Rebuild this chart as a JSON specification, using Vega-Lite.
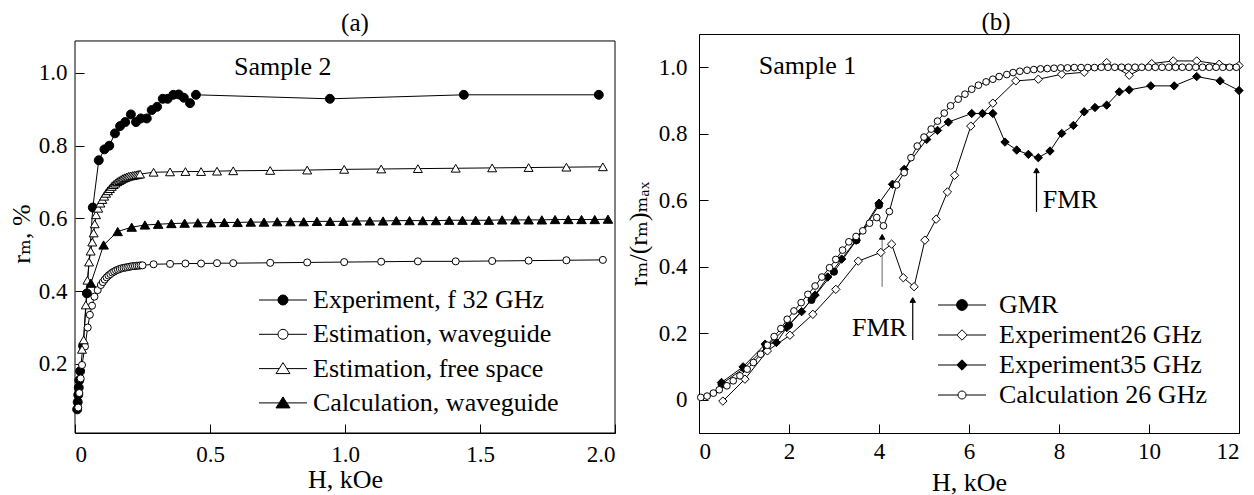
{
"$schema": "https://vega.github.io/schema/vega-lite/v6.json",
"padding": {"left": 8, "top": 9, "right": 0, "bottom": 0},
"spacing": 8,
"config": {
  "font": "Liberation Serif, Times New Roman, Tinos, DejaVu Serif, serif",
  "view": {"stroke": "black", "strokeWidth": 1},
  "point": {"stroke": "black", "strokeWidth": 1, "opacity": 1},
  "axis": {"grid": false, "domainColor": "black", "tickColor": "black", "labelColor": "black", "titleColor": "black", "labelFontSize": 23, "titleFontSize": 26, "titleFontWeight": "normal", "tickSize": -9, "labelFont": "Liberation Serif, Times New Roman, Tinos, DejaVu Serif, serif", "titleFont": "Liberation Serif, Times New Roman, Tinos, DejaVu Serif, serif"},
  "text": {"font": "Liberation Serif, Times New Roman, Tinos, DejaVu Serif, serif"},
  "legend": {"labelFont": "Liberation Serif, Times New Roman, Tinos, DejaVu Serif, serif", "labelColor": "black", "labelLimit": 500, "padding": 0}
},
"datasets": {
  "a": [
    {"s":"Experiment, f 32 GHz","h":0.008,"v":0.075},{"s":"Experiment, f 32 GHz","h":0.010,"v":0.095},{"s":"Experiment, f 32 GHz","h":0.012,"v":0.115},{"s":"Experiment, f 32 GHz","h":0.014,"v":0.135},{"s":"Experiment, f 32 GHz","h":0.016,"v":0.155},{"s":"Experiment, f 32 GHz","h":0.019,"v":0.18},{"s":"Experiment, f 32 GHz","h":0.030,"v":0.25},{"s":"Experiment, f 32 GHz","h":0.044,"v":0.394},{"s":"Experiment, f 32 GHz","h":0.066,"v":0.63},{"s":"Experiment, f 32 GHz","h":0.088,"v":0.76},{"s":"Experiment, f 32 GHz","h":0.109,"v":0.79},{"s":"Experiment, f 32 GHz","h":0.127,"v":0.80},{"s":"Experiment, f 32 GHz","h":0.148,"v":0.834},{"s":"Experiment, f 32 GHz","h":0.167,"v":0.854},{"s":"Experiment, f 32 GHz","h":0.186,"v":0.865},{"s":"Experiment, f 32 GHz","h":0.207,"v":0.886},{"s":"Experiment, f 32 GHz","h":0.226,"v":0.865},{"s":"Experiment, f 32 GHz","h":0.244,"v":0.875},{"s":"Experiment, f 32 GHz","h":0.266,"v":0.875},{"s":"Experiment, f 32 GHz","h":0.284,"v":0.898},{"s":"Experiment, f 32 GHz","h":0.304,"v":0.907},{"s":"Experiment, f 32 GHz","h":0.325,"v":0.929},{"s":"Experiment, f 32 GHz","h":0.343,"v":0.929},{"s":"Experiment, f 32 GHz","h":0.364,"v":0.94},{"s":"Experiment, f 32 GHz","h":0.384,"v":0.941},{"s":"Experiment, f 32 GHz","h":0.403,"v":0.932},{"s":"Experiment, f 32 GHz","h":0.426,"v":0.917},{"s":"Experiment, f 32 GHz","h":0.448,"v":0.94},{"s":"Experiment, f 32 GHz","h":0.944,"v":0.929},{"s":"Experiment, f 32 GHz","h":1.44,"v":0.94},{"s":"Experiment, f 32 GHz","h":1.94,"v":0.94},
    {"s":"Estimation, waveguide","h":0.012,"v":0.08},{"s":"Estimation, waveguide","h":0.016,"v":0.12},{"s":"Estimation, waveguide","h":0.021,"v":0.16},{"s":"Estimation, waveguide","h":0.026,"v":0.197},{"s":"Estimation, waveguide","h":0.037,"v":0.248},{"s":"Estimation, waveguide","h":0.047,"v":0.30},{"s":"Estimation, waveguide","h":0.055,"v":0.335},{"s":"Estimation, waveguide","h":0.063,"v":0.36},{"s":"Estimation, waveguide","h":0.072,"v":0.385},{"s":"Estimation, waveguide","h":0.084,"v":0.403},{"s":"Estimation, waveguide","h":0.096,"v":0.417},{"s":"Estimation, waveguide","h":0.103,"v":0.425},{"s":"Estimation, waveguide","h":0.110,"v":0.432},{"s":"Estimation, waveguide","h":0.117,"v":0.438},{"s":"Estimation, waveguide","h":0.124,"v":0.443},{"s":"Estimation, waveguide","h":0.131,"v":0.447},{"s":"Estimation, waveguide","h":0.138,"v":0.451},{"s":"Estimation, waveguide","h":0.145,"v":0.454},{"s":"Estimation, waveguide","h":0.152,"v":0.457},{"s":"Estimation, waveguide","h":0.159,"v":0.459},{"s":"Estimation, waveguide","h":0.166,"v":0.461},{"s":"Estimation, waveguide","h":0.173,"v":0.463},{"s":"Estimation, waveguide","h":0.180,"v":0.464},{"s":"Estimation, waveguide","h":0.187,"v":0.465},{"s":"Estimation, waveguide","h":0.194,"v":0.466},{"s":"Estimation, waveguide","h":0.201,"v":0.467},{"s":"Estimation, waveguide","h":0.208,"v":0.468},{"s":"Estimation, waveguide","h":0.215,"v":0.469},{"s":"Estimation, waveguide","h":0.222,"v":0.469},{"s":"Estimation, waveguide","h":0.229,"v":0.47},{"s":"Estimation, waveguide","h":0.236,"v":0.47},{"s":"Estimation, waveguide","h":0.243,"v":0.471},{"s":"Estimation, waveguide","h":0.250,"v":0.471},{"s":"Estimation, waveguide","h":0.291,"v":0.474},{"s":"Estimation, waveguide","h":0.352,"v":0.475},{"s":"Estimation, waveguide","h":0.409,"v":0.476},{"s":"Estimation, waveguide","h":0.467,"v":0.476},{"s":"Estimation, waveguide","h":0.526,"v":0.477},{"s":"Estimation, waveguide","h":0.586,"v":0.477},{"s":"Estimation, waveguide","h":0.723,"v":0.478},{"s":"Estimation, waveguide","h":0.86,"v":0.479},{"s":"Estimation, waveguide","h":0.997,"v":0.48},{"s":"Estimation, waveguide","h":1.134,"v":0.481},{"s":"Estimation, waveguide","h":1.27,"v":0.482},{"s":"Estimation, waveguide","h":1.41,"v":0.482},{"s":"Estimation, waveguide","h":1.545,"v":0.483},{"s":"Estimation, waveguide","h":1.68,"v":0.484},{"s":"Estimation, waveguide","h":1.82,"v":0.485},{"s":"Estimation, waveguide","h":1.955,"v":0.486},
    {"s":"Estimation, free space","h":0.026,"v":0.24},{"s":"Estimation, free space","h":0.032,"v":0.266},{"s":"Estimation, free space","h":0.040,"v":0.362},{"s":"Estimation, free space","h":0.046,"v":0.43},{"s":"Estimation, free space","h":0.052,"v":0.48},{"s":"Estimation, free space","h":0.058,"v":0.51},{"s":"Estimation, free space","h":0.064,"v":0.535},{"s":"Estimation, free space","h":0.069,"v":0.56},{"s":"Estimation, free space","h":0.073,"v":0.585},{"s":"Estimation, free space","h":0.078,"v":0.61},{"s":"Estimation, free space","h":0.086,"v":0.628},{"s":"Estimation, free space","h":0.094,"v":0.642},{"s":"Estimation, free space","h":0.101,"v":0.652},{"s":"Estimation, free space","h":0.108,"v":0.661},{"s":"Estimation, free space","h":0.115,"v":0.669},{"s":"Estimation, free space","h":0.122,"v":0.676},{"s":"Estimation, free space","h":0.129,"v":0.682},{"s":"Estimation, free space","h":0.136,"v":0.688},{"s":"Estimation, free space","h":0.143,"v":0.693},{"s":"Estimation, free space","h":0.150,"v":0.697},{"s":"Estimation, free space","h":0.157,"v":0.701},{"s":"Estimation, free space","h":0.164,"v":0.704},{"s":"Estimation, free space","h":0.171,"v":0.707},{"s":"Estimation, free space","h":0.178,"v":0.71},{"s":"Estimation, free space","h":0.185,"v":0.712},{"s":"Estimation, free space","h":0.192,"v":0.714},{"s":"Estimation, free space","h":0.199,"v":0.716},{"s":"Estimation, free space","h":0.206,"v":0.717},{"s":"Estimation, free space","h":0.213,"v":0.718},{"s":"Estimation, free space","h":0.220,"v":0.719},{"s":"Estimation, free space","h":0.227,"v":0.72},{"s":"Estimation, free space","h":0.234,"v":0.721},{"s":"Estimation, free space","h":0.241,"v":0.722},{"s":"Estimation, free space","h":0.291,"v":0.727},{"s":"Estimation, free space","h":0.352,"v":0.728},{"s":"Estimation, free space","h":0.409,"v":0.729},{"s":"Estimation, free space","h":0.467,"v":0.729},{"s":"Estimation, free space","h":0.526,"v":0.73},{"s":"Estimation, free space","h":0.586,"v":0.731},{"s":"Estimation, free space","h":0.723,"v":0.732},{"s":"Estimation, free space","h":0.86,"v":0.733},{"s":"Estimation, free space","h":0.997,"v":0.735},{"s":"Estimation, free space","h":1.134,"v":0.736},{"s":"Estimation, free space","h":1.27,"v":0.737},{"s":"Estimation, free space","h":1.41,"v":0.738},{"s":"Estimation, free space","h":1.545,"v":0.739},{"s":"Estimation, free space","h":1.68,"v":0.74},{"s":"Estimation, free space","h":1.82,"v":0.741},{"s":"Estimation, free space","h":1.955,"v":0.742},
    {"s":"Calculation, waveguide","h":0.059,"v":0.422},{"s":"Calculation, waveguide","h":0.106,"v":0.527},{"s":"Calculation, waveguide","h":0.158,"v":0.564},{"s":"Calculation, waveguide","h":0.21,"v":0.576},{"s":"Calculation, waveguide","h":0.259,"v":0.582},{"s":"Calculation, waveguide","h":0.308,"v":0.584},{"s":"Calculation, waveguide","h":0.357,"v":0.586},{"s":"Calculation, waveguide","h":0.406,"v":0.587},{"s":"Calculation, waveguide","h":0.455,"v":0.588},{"s":"Calculation, waveguide","h":0.504,"v":0.588},{"s":"Calculation, waveguide","h":0.553,"v":0.589},{"s":"Calculation, waveguide","h":0.602,"v":0.589},{"s":"Calculation, waveguide","h":0.651,"v":0.59},{"s":"Calculation, waveguide","h":0.700,"v":0.59},{"s":"Calculation, waveguide","h":0.749,"v":0.591},{"s":"Calculation, waveguide","h":0.798,"v":0.591},{"s":"Calculation, waveguide","h":0.847,"v":0.591},{"s":"Calculation, waveguide","h":0.896,"v":0.592},{"s":"Calculation, waveguide","h":0.945,"v":0.592},{"s":"Calculation, waveguide","h":0.994,"v":0.592},{"s":"Calculation, waveguide","h":1.043,"v":0.593},{"s":"Calculation, waveguide","h":1.092,"v":0.593},{"s":"Calculation, waveguide","h":1.141,"v":0.593},{"s":"Calculation, waveguide","h":1.190,"v":0.594},{"s":"Calculation, waveguide","h":1.239,"v":0.594},{"s":"Calculation, waveguide","h":1.288,"v":0.594},{"s":"Calculation, waveguide","h":1.337,"v":0.594},{"s":"Calculation, waveguide","h":1.386,"v":0.595},{"s":"Calculation, waveguide","h":1.435,"v":0.595},{"s":"Calculation, waveguide","h":1.484,"v":0.595},{"s":"Calculation, waveguide","h":1.533,"v":0.595},{"s":"Calculation, waveguide","h":1.582,"v":0.596},{"s":"Calculation, waveguide","h":1.631,"v":0.596},{"s":"Calculation, waveguide","h":1.680,"v":0.596},{"s":"Calculation, waveguide","h":1.729,"v":0.596},{"s":"Calculation, waveguide","h":1.778,"v":0.597},{"s":"Calculation, waveguide","h":1.827,"v":0.597},{"s":"Calculation, waveguide","h":1.876,"v":0.597},{"s":"Calculation, waveguide","h":1.925,"v":0.597},{"s":"Calculation, waveguide","h":1.974,"v":0.598}
  ],
  "b": [
    {"s":"GMR","h":0.5,"v":0.047},{"s":"GMR","h":1.0,"v":0.095},{"s":"GMR","h":1.5,"v":0.16},{"s":"GMR","h":2.0,"v":0.225},{"s":"GMR","h":2.5,"v":0.30},{"s":"GMR","h":3.0,"v":0.385},{"s":"GMR","h":3.5,"v":0.48},{"s":"GMR","h":4.0,"v":0.585},
    {"s":"Experiment26 GHz","h":0.53,"v":-0.004},{"s":"Experiment26 GHz","h":1.02,"v":0.062},{"s":"Experiment26 GHz","h":1.52,"v":0.147},{"s":"Experiment26 GHz","h":2.02,"v":0.194},{"s":"Experiment26 GHz","h":2.53,"v":0.257},{"s":"Experiment26 GHz","h":3.04,"v":0.332},{"s":"Experiment26 GHz","h":3.54,"v":0.417},{"s":"Experiment26 GHz","h":4.04,"v":0.443},{"s":"Experiment26 GHz","h":4.28,"v":0.468},{"s":"Experiment26 GHz","h":4.54,"v":0.367},{"s":"Experiment26 GHz","h":4.78,"v":0.34},{"s":"Experiment26 GHz","h":5.02,"v":0.48},{"s":"Experiment26 GHz","h":5.27,"v":0.543},{"s":"Experiment26 GHz","h":5.52,"v":0.625},{"s":"Experiment26 GHz","h":5.68,"v":0.675},{"s":"Experiment26 GHz","h":6.04,"v":0.823},{"s":"Experiment26 GHz","h":6.53,"v":0.892},{"s":"Experiment26 GHz","h":7.04,"v":0.959},{"s":"Experiment26 GHz","h":7.54,"v":0.964},{"s":"Experiment26 GHz","h":8.06,"v":0.979},{"s":"Experiment26 GHz","h":8.56,"v":0.985},{"s":"Experiment26 GHz","h":9.06,"v":1.014},{"s":"Experiment26 GHz","h":9.56,"v":0.976},{"s":"Experiment26 GHz","h":10.06,"v":1.011},{"s":"Experiment26 GHz","h":10.54,"v":1.019},{"s":"Experiment26 GHz","h":11.06,"v":1.019},{"s":"Experiment26 GHz","h":11.56,"v":1.009},{"s":"Experiment26 GHz","h":12.0,"v":1.005},
    {"s":"Experiment35 GHz","h":0.5,"v":0.052},{"s":"Experiment35 GHz","h":0.98,"v":0.099},{"s":"Experiment35 GHz","h":1.47,"v":0.167},{"s":"Experiment35 GHz","h":1.72,"v":0.172},{"s":"Experiment35 GHz","h":1.95,"v":0.217},{"s":"Experiment35 GHz","h":2.28,"v":0.265},{"s":"Experiment35 GHz","h":2.58,"v":0.315},{"s":"Experiment35 GHz","h":2.86,"v":0.369},{"s":"Experiment35 GHz","h":3.17,"v":0.423},{"s":"Experiment35 GHz","h":3.49,"v":0.48},{"s":"Experiment35 GHz","h":4.0,"v":0.591},{"s":"Experiment35 GHz","h":4.30,"v":0.648},{"s":"Experiment35 GHz","h":4.56,"v":0.693},{"s":"Experiment35 GHz","h":5.06,"v":0.783},{"s":"Experiment35 GHz","h":5.30,"v":0.81},{"s":"Experiment35 GHz","h":5.54,"v":0.835},{"s":"Experiment35 GHz","h":6.06,"v":0.861},{"s":"Experiment35 GHz","h":6.30,"v":0.861},{"s":"Experiment35 GHz","h":6.53,"v":0.861},{"s":"Experiment35 GHz","h":6.80,"v":0.775},{"s":"Experiment35 GHz","h":7.06,"v":0.751},{"s":"Experiment35 GHz","h":7.32,"v":0.738},{"s":"Experiment35 GHz","h":7.54,"v":0.728},{"s":"Experiment35 GHz","h":7.80,"v":0.748},{"s":"Experiment35 GHz","h":8.06,"v":0.801},{"s":"Experiment35 GHz","h":8.32,"v":0.825},{"s":"Experiment35 GHz","h":8.56,"v":0.866},{"s":"Experiment35 GHz","h":8.80,"v":0.879},{"s":"Experiment35 GHz","h":9.06,"v":0.886},{"s":"Experiment35 GHz","h":9.34,"v":0.926},{"s":"Experiment35 GHz","h":9.56,"v":0.932},{"s":"Experiment35 GHz","h":10.04,"v":0.944},{"s":"Experiment35 GHz","h":10.56,"v":0.944},{"s":"Experiment35 GHz","h":11.06,"v":0.972},{"s":"Experiment35 GHz","h":11.58,"v":0.959},{"s":"Experiment35 GHz","h":12.0,"v":0.93},
    {"s":"Calculation 26 GHz","h":0.04,"v":0.007},{"s":"Calculation 26 GHz","h":0.18,"v":0.011},{"s":"Calculation 26 GHz","h":0.32,"v":0.02},{"s":"Calculation 26 GHz","h":0.45,"v":0.03},{"s":"Calculation 26 GHz","h":0.62,"v":0.042},{"s":"Calculation 26 GHz","h":0.76,"v":0.057},{"s":"Calculation 26 GHz","h":0.91,"v":0.072},{"s":"Calculation 26 GHz","h":1.07,"v":0.092},{"s":"Calculation 26 GHz","h":1.21,"v":0.112},{"s":"Calculation 26 GHz","h":1.37,"v":0.137},{"s":"Calculation 26 GHz","h":1.52,"v":0.164},{"s":"Calculation 26 GHz","h":1.67,"v":0.19},{"s":"Calculation 26 GHz","h":1.82,"v":0.214},{"s":"Calculation 26 GHz","h":1.96,"v":0.242},{"s":"Calculation 26 GHz","h":2.11,"v":0.267},{"s":"Calculation 26 GHz","h":2.27,"v":0.292},{"s":"Calculation 26 GHz","h":2.42,"v":0.317},{"s":"Calculation 26 GHz","h":2.58,"v":0.342},{"s":"Calculation 26 GHz","h":2.73,"v":0.369},{"s":"Calculation 26 GHz","h":2.90,"v":0.397},{"s":"Calculation 26 GHz","h":3.04,"v":0.422},{"s":"Calculation 26 GHz","h":3.19,"v":0.45},{"s":"Calculation 26 GHz","h":3.33,"v":0.475},{"s":"Calculation 26 GHz","h":3.49,"v":0.491},{"s":"Calculation 26 GHz","h":3.64,"v":0.508},{"s":"Calculation 26 GHz","h":3.79,"v":0.531},{"s":"Calculation 26 GHz","h":3.95,"v":0.548},{"s":"Calculation 26 GHz","h":4.10,"v":0.523},{"s":"Calculation 26 GHz","h":4.23,"v":0.566},{"s":"Calculation 26 GHz","h":4.39,"v":0.646},{"s":"Calculation 26 GHz","h":4.56,"v":0.683},{"s":"Calculation 26 GHz","h":4.71,"v":0.728},{"s":"Calculation 26 GHz","h":4.85,"v":0.763},{"s":"Calculation 26 GHz","h":5.0,"v":0.79},{"s":"Calculation 26 GHz","h":5.16,"v":0.814},{"s":"Calculation 26 GHz","h":5.30,"v":0.838},{"s":"Calculation 26 GHz","h":5.45,"v":0.862},{"s":"Calculation 26 GHz","h":5.59,"v":0.884},{"s":"Calculation 26 GHz","h":5.76,"v":0.904},{"s":"Calculation 26 GHz","h":5.91,"v":0.919},{"s":"Calculation 26 GHz","h":6.06,"v":0.934},{"s":"Calculation 26 GHz","h":6.21,"v":0.946},{"s":"Calculation 26 GHz","h":6.38,"v":0.956},{"s":"Calculation 26 GHz","h":6.53,"v":0.964},{"s":"Calculation 26 GHz","h":6.67,"v":0.972},{"s":"Calculation 26 GHz","h":6.84,"v":0.978},{"s":"Calculation 26 GHz","h":6.98,"v":0.984},{"s":"Calculation 26 GHz","h":7.13,"v":0.988},{"s":"Calculation 26 GHz","h":7.29,"v":0.991},{"s":"Calculation 26 GHz","h":7.44,"v":0.993},{"s":"Calculation 26 GHz","h":7.59,"v":0.995},{"s":"Calculation 26 GHz","h":7.74,"v":0.996},{"s":"Calculation 26 GHz","h":7.89,"v":0.997},{"s":"Calculation 26 GHz","h":8.04,"v":0.998},{"s":"Calculation 26 GHz","h":8.19,"v":0.998},{"s":"Calculation 26 GHz","h":8.34,"v":0.999},{"s":"Calculation 26 GHz","h":8.49,"v":0.999},{"s":"Calculation 26 GHz","h":8.64,"v":0.999},{"s":"Calculation 26 GHz","h":8.79,"v":0.999},{"s":"Calculation 26 GHz","h":8.94,"v":1.0},{"s":"Calculation 26 GHz","h":9.09,"v":1.0},{"s":"Calculation 26 GHz","h":9.24,"v":1.0},{"s":"Calculation 26 GHz","h":9.39,"v":1.0},{"s":"Calculation 26 GHz","h":9.54,"v":1.0},{"s":"Calculation 26 GHz","h":9.69,"v":1.0},{"s":"Calculation 26 GHz","h":9.84,"v":1.0},{"s":"Calculation 26 GHz","h":9.99,"v":1.0},{"s":"Calculation 26 GHz","h":10.14,"v":1.0},{"s":"Calculation 26 GHz","h":10.29,"v":1.0},{"s":"Calculation 26 GHz","h":10.44,"v":1.0},{"s":"Calculation 26 GHz","h":10.59,"v":1.0},{"s":"Calculation 26 GHz","h":10.74,"v":1.0},{"s":"Calculation 26 GHz","h":10.89,"v":1.0},{"s":"Calculation 26 GHz","h":11.04,"v":1.0},{"s":"Calculation 26 GHz","h":11.19,"v":1.0},{"s":"Calculation 26 GHz","h":11.34,"v":1.0},{"s":"Calculation 26 GHz","h":11.49,"v":1.0},{"s":"Calculation 26 GHz","h":11.64,"v":1.0},{"s":"Calculation 26 GHz","h":11.79,"v":1.0},{"s":"Calculation 26 GHz","h":11.94,"v":1.0}
  ],
  "frame_a": [{"x1":0,"x2":2,"y1":0.01,"y2":1.088}],
  "ta_left": [{"t":"Sample 2","h":0.589,"v":0.994}],
  "ta_center": [{"t":"(a)","h":1.037,"v":1.1365}],
  "tb_left": [{"t":"Sample 1","h":1.33,"v":0.979},{"t":"FMR","h":7.64,"v":0.578}],
  "tb_right": [{"t":"FMR","h":4.62,"v":0.191}],
  "tb_center": [{"t":"(b)","h":6.6,"v":1.136}],
  "arrows": [{"h":4.07,"v1":0.34,"v2":0.49,"c":"gray"},{"h":4.75,"v1":0.18,"v2":0.30,"c":"black"},{"h":7.5,"v1":0.565,"v2":0.69,"c":"black"}]
},
"hconcat": [
  {
    "width": 540, "height": 399,
    "view": {"stroke": null},
    "layer": [
      {"data": {"name": "frame_a"}, "mark": {"type": "rect", "filled": false, "color": "black", "strokeWidth": 1},
       "encoding": {"x": {"field": "x1", "type": "quantitative", "scale": {"domain": [0, 2], "nice": false}, "axis": {"title": "H, kOe", "values": [0, 0.5, 1, 1.5, 2], "labelExpr": "datum.value === 0 ? '0' : format(datum.value, '.1f')", "labelPadding": 19, "titlePadding": 0, "labelFont": "Liberation Serif"}},
                    "x2": {"field": "x2"},
                    "y": {"field": "y1", "type": "quantitative", "scale": {"domain": [0.01, 1.1072], "nice": false, "zero": false}, "axis": {"title": "rₘ, %", "values": [0.2, 0.4, 0.6, 0.8, 1.0], "format": ".1f", "labelPadding": 17, "titlePadding": 4, "labelFont": "Liberation Serif", "domain": false}},
                    "y2": {"field": "y2"}}},
      {"data": {"name": "a"}, "mark": {"type": "line", "color": "black", "strokeWidth": 1},
       "encoding": {"x": {"field": "h", "type": "quantitative"}, "y": {"field": "v", "type": "quantitative"}, "detail": {"field": "s"}}},
      {"data": {"name": "a"}, "mark": {"type": "point", "filled": true, "stroke": "black", "strokeWidth": 1, "opacity": 1},
       "encoding": {"x": {"field": "h", "type": "quantitative"}, "y": {"field": "v", "type": "quantitative"},
         "shape": {"condition": {"test": "datum.s === 'Estimation, free space' || datum.s === 'Calculation, waveguide'", "value": "triangle-up"}, "value": "circle"},
         "fill": {"condition": {"test": "datum.s === 'Experiment, f 32 GHz' || datum.s === 'Calculation, waveguide'", "value": "black"}, "value": "white"},
         "size": {"condition": [{"test": "datum.s === 'Estimation, waveguide'", "value": 50}, {"test": "datum.s === 'Calculation, waveguide'", "value": 90}], "value": 80}}},
      {"data": {"name": "a"}, "transform": [{"filter": "false"}], "mark": {"type": "point", "filled": true, "strokeWidth": 1, "opacity": 1},
       "encoding": {"x": {"field": "h", "type": "quantitative"}, "y": {"field": "v", "type": "quantitative"},
         "shape": {"field": "s", "type": "nominal", "scale": {"domain": ["Experiment, f 32 GHz", "Estimation, waveguide", "Estimation, free space", "Calculation, waveguide"], "range": ["M-4.8,0H-1M1,0H4.8M-1,0A1,1,0,1,1,1,0A1,1,0,1,1,-1,0Z", "M-4.8,0H-1M1,0H4.8M-1,0A1,1,0,1,1,1,0A1,1,0,1,1,-1,0Z", "M-4.8,0H-0.76M0.76,0H4.8M0,-1.2L1.4,1L-1.4,1Z", "M-4.8,0H-0.76M0.76,0H4.8M0,-1.2L1.4,1L-1.4,1Z"]},
           "legend": {"title": null, "orient": "none", "legendX": 195, "legendY": 253, "symbolSize": 100, "symbolStrokeWidth": 1, "symbolOpacity": 1, "labelFontSize": 26, "labelFont": "Liberation Serif", "labelOffset": 17, "rowPadding": 8.3}},
         "fill": {"field": "s", "type": "nominal", "scale": {"domain": ["Experiment, f 32 GHz", "Estimation, waveguide", "Estimation, free space", "Calculation, waveguide"], "range": ["black", "white", "white", "black"]},
           "legend": {"title": null, "orient": "none", "legendX": 195, "legendY": 253, "symbolSize": 100, "symbolStrokeWidth": 1, "symbolOpacity": 1, "labelFontSize": 26, "labelFont": "Liberation Serif", "labelOffset": 17, "rowPadding": 8.3}},
         "stroke": {"field": "s", "type": "nominal", "scale": {"domain": ["Experiment, f 32 GHz", "Estimation, waveguide", "Estimation, free space", "Calculation, waveguide"], "range": ["black", "black", "black", "black"]},
           "legend": {"title": null, "orient": "none", "legendX": 195, "legendY": 253, "symbolSize": 100, "symbolStrokeWidth": 1, "symbolOpacity": 1, "labelFontSize": 26, "labelFont": "Liberation Serif", "labelOffset": 17, "rowPadding": 8.3}}}},
      {"data": {"name": "ta_left"}, "mark": {"type": "text", "fontSize": 26, "align": "left", "baseline": "alphabetic", "color": "black", "font": "Liberation Serif"},
       "encoding": {"x": {"field": "h", "type": "quantitative"}, "y": {"field": "v", "type": "quantitative"}, "text": {"field": "t"}}},
      {"data": {"name": "ta_center"}, "mark": {"type": "text", "fontSize": 25, "align": "center", "baseline": "middle", "color": "black", "font": "Liberation Serif"},
       "encoding": {"x": {"field": "h", "type": "quantitative"}, "y": {"field": "v", "type": "quantitative"}, "text": {"field": "t"}}}
    ]
  },
  {
    "width": 540, "height": 399,
    "layer": [
      {"data": {"name": "b"}, "mark": {"type": "line", "color": "black", "strokeWidth": 1},
       "encoding": {"x": {"field": "h", "type": "quantitative", "scale": {"domain": [0, 12], "nice": false}, "axis": {"title": "H, kOe", "values": [0, 2, 4, 6, 8, 10, 12], "labelPadding": 16, "titlePadding": 6, "labelFont": "Liberation Serif"}},
                    "y": {"field": "v", "type": "quantitative", "scale": {"domain": [-0.1, 1.1], "nice": false, "zero": false}, "axis": {"title": "rₘ/(rₘ)ₘₐₓ", "values": [0, 0.2, 0.4, 0.6, 0.8, 1.0], "labelExpr": "datum.value === 0 ? '0' : format(datum.value, '.1f')", "labelPadding": 21, "titlePadding": 7, "labelFont": "Liberation Serif"}},
                    "detail": {"field": "s"}}},
      {"data": {"name": "arrows"}, "mark": {"type": "rule", "strokeWidth": 1.2},
       "encoding": {"x": {"field": "h", "type": "quantitative"}, "y": {"field": "v1", "type": "quantitative"}, "y2": {"field": "v2"}, "color": {"field": "c", "type": "nominal", "scale": null}}},
      {"data": {"name": "arrows"}, "mark": {"type": "point", "shape": "triangle-up", "filled": true, "color": "black", "size": 30, "opacity": 1},
       "encoding": {"x": {"field": "h", "type": "quantitative"}, "y": {"field": "v2", "type": "quantitative"}}},
      {"data": {"name": "b"}, "mark": {"type": "point", "filled": true, "stroke": "black", "strokeWidth": 1, "opacity": 1},
       "encoding": {"x": {"field": "h", "type": "quantitative"}, "y": {"field": "v", "type": "quantitative"},
         "shape": {"condition": {"test": "datum.s === 'Experiment26 GHz' || datum.s === 'Experiment35 GHz'", "value": "diamond"}, "value": "circle"},
         "fill": {"condition": {"test": "datum.s === 'GMR' || datum.s === 'Experiment35 GHz'", "value": "black"}, "value": "white"},
         "size": {"condition": [{"test": "datum.s === 'Calculation 26 GHz'", "value": 45}, {"test": "datum.s === 'GMR'", "value": 50}], "value": 70}}},
      {"data": {"name": "b"}, "transform": [{"filter": "false"}], "mark": {"type": "point", "filled": true, "strokeWidth": 1, "opacity": 1},
       "encoding": {"x": {"field": "h", "type": "quantitative"}, "y": {"field": "v", "type": "quantitative"},
         "shape": {"field": "s", "type": "nominal", "scale": {"domain": ["GMR", "Experiment26 GHz", "Experiment35 GHz", "Calculation 26 GHz"], "range": ["M-6,0H-1.35M1.35,0H6M-1.35,0A1.35,1.35,0,1,1,1.35,0A1.35,1.35,0,1,1,-1.35,0Z", "M-6,0H-1.3M1.3,0H6M-1.3,0L0,-1.3L1.3,0L0,1.3Z", "M-6,0H-1.3M1.3,0H6M-1.3,0L0,-1.3L1.3,0L0,1.3Z", "M-6,0H-1M1,0H6M-1,0A1,1,0,1,1,1,0A1,1,0,1,1,-1,0Z"]},
           "legend": {"title": null, "orient": "none", "legendX": 250, "legendY": 258, "symbolSize": 64, "symbolStrokeWidth": 1, "symbolOpacity": 1, "labelFontSize": 26, "labelFont": "Liberation Serif", "labelOffset": 24, "rowPadding": 4}},
         "fill": {"field": "s", "type": "nominal", "scale": {"domain": ["GMR", "Experiment26 GHz", "Experiment35 GHz", "Calculation 26 GHz"], "range": ["black", "white", "black", "white"]},
           "legend": {"title": null, "orient": "none", "legendX": 250, "legendY": 258, "symbolSize": 64, "symbolStrokeWidth": 1, "symbolOpacity": 1, "labelFontSize": 26, "labelFont": "Liberation Serif", "labelOffset": 24, "rowPadding": 4}},
         "stroke": {"field": "s", "type": "nominal", "scale": {"domain": ["GMR", "Experiment26 GHz", "Experiment35 GHz", "Calculation 26 GHz"], "range": ["black", "black", "black", "black"]},
           "legend": {"title": null, "orient": "none", "legendX": 250, "legendY": 258, "symbolSize": 64, "symbolStrokeWidth": 1, "symbolOpacity": 1, "labelFontSize": 26, "labelFont": "Liberation Serif", "labelOffset": 24, "rowPadding": 4}}}},
      {"data": {"name": "tb_left"}, "mark": {"type": "text", "fontSize": 26, "align": "left", "baseline": "alphabetic", "color": "black", "font": "Liberation Serif"},
       "encoding": {"x": {"field": "h", "type": "quantitative"}, "y": {"field": "v", "type": "quantitative"}, "text": {"field": "t"}}},
      {"data": {"name": "tb_right"}, "mark": {"type": "text", "fontSize": 26, "align": "right", "baseline": "alphabetic", "color": "black", "font": "Liberation Serif"},
       "encoding": {"x": {"field": "h", "type": "quantitative"}, "y": {"field": "v", "type": "quantitative"}, "text": {"field": "t"}}},
      {"data": {"name": "tb_center"}, "mark": {"type": "text", "fontSize": 25, "align": "center", "baseline": "middle", "color": "black", "font": "Liberation Serif"},
       "encoding": {"x": {"field": "h", "type": "quantitative"}, "y": {"field": "v", "type": "quantitative"}, "text": {"field": "t"}}}
    ]
  }
],
"resolve": {"scale": {"shape": "independent", "fill": "independent", "stroke": "independent", "x": "independent", "y": "independent"}, "legend": {"shape": "independent", "fill": "independent", "stroke": "independent"}}
}
